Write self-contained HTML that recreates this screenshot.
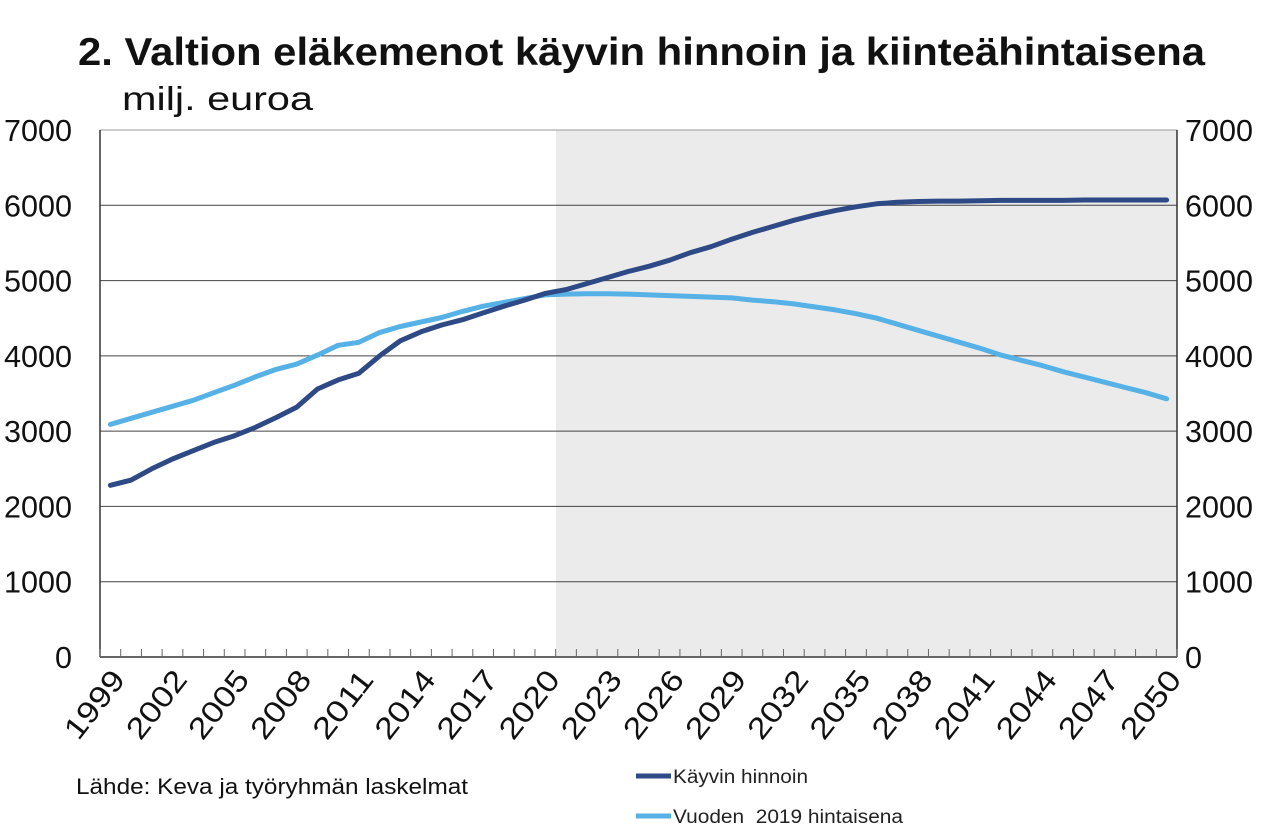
<!DOCTYPE html>
<html><head><meta charset="utf-8"><style>
html,body{margin:0;padding:0;background:#fff;}
body{width:1277px;height:834px;overflow:hidden;font-family:"Liberation Sans",sans-serif;}
</style></head><body>
<svg id="s" width="1277" height="834" xmlns="http://www.w3.org/2000/svg" font-family="Liberation Sans, sans-serif">
<text x="78" y="65" font-size="39" font-weight="bold" fill="#111" textLength="1127" lengthAdjust="spacingAndGlyphs">2. Valtion eläkemenot käyvin hinnoin ja kiinteähintaisena</text>
<text x="122" y="110" font-size="33" fill="#111" textLength="191" lengthAdjust="spacingAndGlyphs">milj. euroa</text>
<rect x="556" y="130" width="621" height="527" fill="#ebebeb"/>
<g id="g"></g>
<text x="76" y="794" font-size="22" fill="#111" textLength="392" lengthAdjust="spacingAndGlyphs">Lähde: Keva ja työryhmän laskelmat</text>
<line x1="636" y1="776" x2="671" y2="776" stroke="#2e4a86" stroke-width="5"/>
<text x="673" y="783" font-size="19" fill="#222" textLength="135" lengthAdjust="spacingAndGlyphs">Käyvin hinnoin</text>
<line x1="636" y1="816" x2="671" y2="816" stroke="#56b1e6" stroke-width="5"/>
<text x="673" y="823" font-size="19" fill="#222" xml:space="preserve" textLength="230" lengthAdjust="spacingAndGlyphs">Vuoden  2019 hintaisena</text>
</svg>
<script>
var dark=[2280,2350,2500,2630,2740,2850,2940,3050,3180,3320,3560,3680,3770,4000,4200,4320,4410,4480,4570,4660,4740,4830,4880,4960,5040,5120,5190,5270,5370,5450,5550,5640,5720,5800,5870,5930,5980,6020,6040,6050,6055,6055,6060,6065,6065,6065,6065,6070,6070,6070,6070,6070];
var light=[3090,3170,3250,3330,3410,3510,3610,3720,3820,3890,4010,4140,4180,4310,4390,4450,4510,4590,4660,4710,4760,4810,4820,4825,4825,4820,4810,4800,4790,4780,4770,4740,4720,4690,4650,4610,4560,4500,4420,4340,4260,4180,4100,4010,3940,3870,3790,3720,3650,3580,3510,3430];
var L=100,R=1177,T=130,B=657,n=52,w=(R-L)/n;
function X(i){return L+w*(i+0.5);}function Y(v){return B-v*(B-T)/7000;}
var h='';
for(var k=1;k<=7;k++){var y=Y(k*1000);h+='<line x1="'+L+'" y1="'+y+'" x2="'+R+'" y2="'+y+'" stroke="'+(k==7?'#999':'#444')+'" stroke-width="1"/>';}
for(var k=0;k<=7;k++){var y=Y(k*1000)+11;var s=String(k*1000);var tl=s.length==1?17:68;
h+='<text x="72" y="'+y+'" font-size="31" text-anchor="end" fill="#111" textLength="'+tl+'" lengthAdjust="spacingAndGlyphs">'+s+'</text><text x="1185" y="'+y+'" font-size="31" fill="#111" textLength="'+tl+'" lengthAdjust="spacingAndGlyphs">'+s+'</text>';}
h+='<line x1="'+L+'" y1="'+T+'" x2="'+L+'" y2="'+B+'" stroke="#333" stroke-width="1.5"/>';
h+='<line x1="'+R+'" y1="'+T+'" x2="'+R+'" y2="'+B+'" stroke="#333" stroke-width="1.5"/>';
h+='<line x1="'+L+'" y1="'+B+'" x2="'+R+'" y2="'+B+'" stroke="#666" stroke-width="2"/>';
for(var i=0;i<=n;i++){var x=L+w*i;h+='<line x1="'+x+'" y1="'+(B-8)+'" x2="'+x+'" y2="'+B+'" stroke="#666" stroke-width="1"/>';}
for(var i=0;i<n;i+=3){var x=X(i)+16,y=680;h+='<text x="'+x+'" y="'+y+'" font-size="30" text-anchor="end" fill="#111" textLength="78" lengthAdjust="spacingAndGlyphs" transform="rotate(-52 '+x+' '+y+')">'+(1999+i)+'</text>';}
function P(a,c){var d='';for(var i=0;i<a.length;i++)d+=(i?'L':'M')+X(i).toFixed(1)+' '+Y(a[i]).toFixed(1);return '<path d="'+d+'" fill="none" stroke="'+c+'" stroke-width="5" stroke-linejoin="round" stroke-linecap="round"/>';}
h+=P(light,'#56b1e6')+P(dark,'#2e4a86');
document.getElementById('g').innerHTML=h;
</script>
</body></html>
